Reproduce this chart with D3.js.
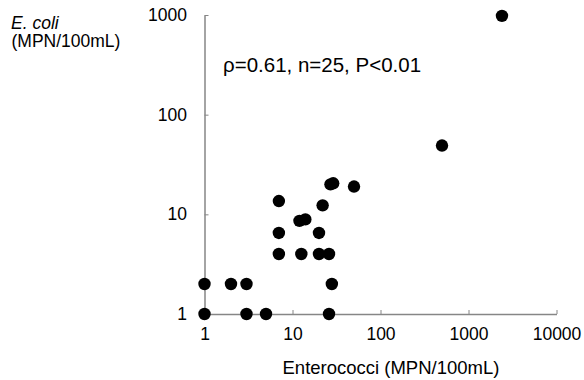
<!DOCTYPE html>
<html>
<head>
<meta charset="utf-8">
<script src="https://cdn.jsdelivr.net/npm/d3@7"></script>
<style>
  body { margin: 0; background: #fff; }
  text { font-family: "Liberation Sans", Arial, sans-serif; }
</style>
</head>
<body>
<div id="chart"></div>
<script>
// Enterococci vs E. coli (MPN/100mL)
const enterococci = [1, 1, 2, 3, 3, 5, 26, 28, 7, 7, 7, 12.6, 12, 14, 20, 26, 20, 22, 27, 29, 50, 500, 2400];
const ecoli =       [1, 2, 2, 2, 1, 1, 1, 2, 4, 6.5, 13.6, 4, 8.6, 8.9, 4, 4, 6.5, 12.3, 20, 20.5, 19, 49, 980];
const xTicks = [1, 10, 100, 1000, 10000];
const yTicks = [1, 10, 100, 1000];
const statsLabel = 'ρ=0.61, n=25, P<0.01';

const width = 584, height = 380;
const margin = { top: 15, right: 27.5, bottom: 66, left: 204.5 };
const innerW = width - margin.left - margin.right;
const innerH = height - margin.top - margin.bottom;

const svg = d3.select('#chart')
  .append('svg')
  .attr('width', width)
  .attr('height', height);

const g = svg.append('g')
  .attr('transform', `translate(${margin.left},${margin.top})`);

const x = d3.scaleLog().domain([1, 10000]).range([0, innerW]);
const y = d3.scaleLog().domain([1, 1000]).range([innerH, 0]);

const axisColor = '#868686';
const tickFont = 17.5;

// x axis, ticks pointing inward
const xAxis = g.append('g')
  .attr('transform', `translate(0,${innerH})`)
  .call(d3.axisBottom(x).tickValues(xTicks).tickFormat(d3.format('d')).tickSizeInner(-4).tickSizeOuter(0).tickPadding(14));
xAxis.select('.domain').attr('stroke', axisColor).attr('stroke-width', 1.5);
xAxis.selectAll('.tick line').attr('stroke', axisColor);
xAxis.selectAll('.tick text').attr('font-size', tickFont).attr('fill', '#000');

// y axis
const yAxis = g.append('g')
  .call(d3.axisLeft(y).tickValues(yTicks).tickFormat(d3.format('d')).tickSizeInner(-4).tickSizeOuter(0).tickPadding(17.5));
yAxis.select('.domain').attr('stroke', axisColor).attr('stroke-width', 1.5);
yAxis.selectAll('.tick line').attr('stroke', axisColor);
yAxis.selectAll('.tick text').attr('font-size', tickFont).attr('fill', '#000');

// points
const pts = enterococci.map((v, i) => ({ x: v, y: ecoli[i] }));
g.selectAll('circle')
  .data(pts)
  .enter()
  .append('circle')
  .attr('cx', d => x(d.x))
  .attr('cy', d => y(d.y))
  .attr('r', 6.2)
  .attr('fill', '#000');

// stats annotation
svg.append('text')
  .attr('x', 223)
  .attr('y', 71.5)
  .attr('font-size', 20.5)
  .text(statsLabel);

// axis titles
svg.append('text')
  .attr('x', 282.5)
  .attr('y', 374)
  .attr('font-size', 18.5)
  .text('Enterococci (MPN/100mL)');

svg.append('text')
  .attr('x', 11)
  .attr('y', 28.5)
  .attr('font-size', 17.5)
  .attr('font-style', 'italic')
  .text('E. coli');

svg.append('text')
  .attr('x', 11.5)
  .attr('y', 47)
  .attr('font-size', 17.5)
  .text('(MPN/100mL)');
</script>
</body>
</html>
